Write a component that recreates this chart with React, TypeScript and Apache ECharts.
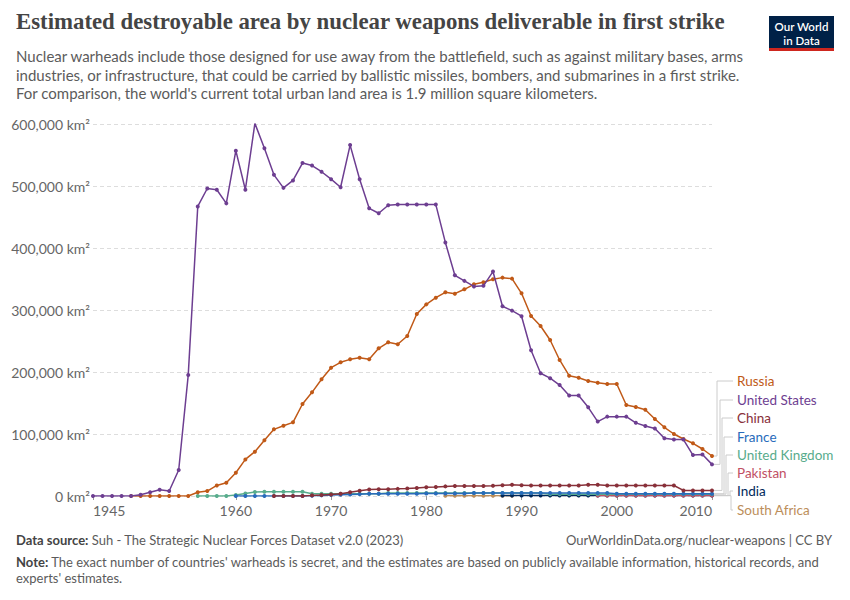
import React, { useEffect, useRef } from "react";
import * as echarts from "echarts";

const xTicks = [1945, 1960, 1970, 1980, 1990, 2000, 2010];
const yTicks = [0, 100000, 200000, 300000, 400000, 500000, 600000];

const usStart = 1945;
const usValues = [
  0, 0, 0, 0, 0, 2000, 6000, 10000, 8000, 42000, 195000, 467000, 496000, 494000, 472000,
  557000, 494000, 601000, 561000, 518000, 497000, 509000, 537000, 533000, 523000,
  511000, 498000, 566000, 511000, 464000, 456000, 469000, 470000, 470000, 470000,
  470000, 470000, 409000, 356000, 347000, 338000, 339000, 362000, 306000, 299000,
  290000, 235000, 198000, 190000, 179000, 162000, 162000, 143000, 120000, 128000,
  128000, 128000, 118000, 113000, 109000, 93000, 91000, 91000, 66000, 67000, 51000,
];

const russiaStart = 1949;
const russiaValues = [
  0, 0, 0, 0, 0, 0, 0, 6000, 8000, 17000, 21500,
  37600, 59000, 71500, 90000, 107500, 113400, 118800, 148400, 167200, 188200,
  207000, 215600, 220400, 223100, 220400, 238200, 247900, 244700, 258100, 293500,
  309100, 319900, 328500, 326300, 333400, 341400, 344700, 349500, 352200, 350600,
  326900, 290300, 274200, 251600, 219400, 194000, 190800, 185500, 182800, 180600,
  180600, 146800, 143500, 139200, 124200, 110800, 100000, 91900, 85000, 75800, 64500,
];

const chinaStart = 1964;
const chinaValues = [
  0, 0, 0, 0, 1000, 1500, 2500, 3500, 6000, 8500, 10500, 11000, 11000, 11500, 12000, 13000,
  14000, 14500, 15500, 16000, 16000, 16000, 16000, 16500, 17500, 18000,
  17500, 17000, 17000, 17000, 17000, 17000, 17000, 18000, 18000, 17000,
  17000, 17000, 17000, 17000, 17000, 17000, 17000, 9000, 9000, 9000, 9000,
];

const franceStart = 1960;
const franceValues = [
  0, 0, 0, 0, 0, 0, 0, 0, 500, 1000, 1500, 2000, 2500, 3000, 3500, 3500, 3500, 3500, 3500, 3500,
  4000, 4000, 4000, 4000, 4000, 5000, 5000, 5000, 5000, 5000, 5000, 5000, 5000, 5000, 5000,
  5000, 5000, 5000, 5000, 5000, 3500, 3500, 3500, 3500, 3500, 3500, 3500, 3500, 3500, 3500, 3500,
];

const ukStart = 1956;
const ukValues = [
  0, 0, 0, 0, 1500, 4000, 6500, 7000, 7000, 7000, 7000, 7000, 3500, 3500,
  3500, 3500, 3500, 3500, 3500, 3500, 5000, 5000, 5000, 5000, 5000, 5000, 5000, 5000,
  5000, 5000, 5000, 5000, 5000, 5000, 5000, 5000, 5000, 3000, 3000, 3000, 3000, 3000,
  3000, 3000, 3000, 3000, 3000, 3000, 3000, 3000, 3000, 3000, 3000, 3000, 3000,
];

const southAfricaStart = 1982;
const southAfricaValues = [500, 500, 500, 500, 500, 500, 500, 500];

const indiaStart = 1988;
const indiaValues = [
  800, 800, 800, 800, 800, 800, 800, 800, 800, 800, 800, 800, 800, 800, 800, 800,
  800, 800, 800, 800, 800, 800, 800,
];

const pakistanStart = 1998;
const pakistanValues = [700, 700, 700, 700, 700, 700, 700, 700, 700, 700, 700, 700, 700];

const countries = [
  "Russia", "United States", "China", "France", "United Kingdom", "Pakistan", "India", "South Africa",
];
const colors = ["#C05917", "#6D3E91", "#883039", "#286BBB", "#58AC8C", "#C15065", "#00295B", "#BC8E5A"];
const starts = [russiaStart, usStart, chinaStart, franceStart, ukStart, pakistanStart, indiaStart, southAfricaStart];
const valuesList = [russiaValues, usValues, chinaValues, franceValues, ukValues, pakistanValues, indiaValues, southAfricaValues];

const labelYs = [381, 400, 418, 437, 455, 473, 491, 510];
const connectorXs = [717, 720, 722, 724, 726, 728, 730, 731];

const FONT = "Lato, 'Noto Sans', sans-serif";

export default function App() {
  const ref = useRef<HTMLDivElement>(null);
  useEffect(() => {
    if (!ref.current) return;
    const chart = echarts.init(ref.current, null, { renderer: "svg", width: 850, height: 600 });

    const drawOrder = [7, 6, 5, 4, 3, 2, 0, 1];
    const series = drawOrder.map((i) => ({
      name: countries[i],
      type: "line",
      data: valuesList[i].map((v, k) => [starts[i] + k, v]),
      symbol: "circle",
      symbolSize: 4,
      showSymbol: true,
      lineStyle: { width: 1.5, color: colors[i] },
      itemStyle: { color: colors[i] },
      z: 2 + drawOrder.indexOf(i),
      silent: true,
    }));

    const baseGraphics: any[] = [
      {
        type: "text",
        left: 16,
        top: 10,
        style: {
          text: "Estimated destroyable area by nuclear weapons deliverable in first strike",
          font: "bold 22.8px 'Liberation Serif', 'DejaVu Serif', serif",
          fill: "#444444",
        },
      },
      {
        type: "text",
        left: 16,
        top: 47,
        style: {
          text:
            "Nuclear warheads include those designed for use away from the battlefield, such as against military bases, arms\nindustries, or infrastructure, that could be carried by ballistic missiles, bombers, and submarines in a first strike.\nFor comparison, the world's current total urban land area is 1.9 million square kilometers.",
          font: `15px ${FONT}`,
          lineHeight: 18.5,
          fill: "#5b5b5b",
        },
      },
      { type: "rect", shape: { x: 769, y: 16, width: 65, height: 33 }, style: { fill: "#002147" } },
      { type: "rect", shape: { x: 769, y: 48, width: 65, height: 3 }, style: { fill: "#CE261E" } },
      {
        type: "text",
        x: 801.5,
        y: 26,
        style: {
          text: "Our World",
          font: `600 11.5px ${FONT}`,
          lineHeight: 11.5,
          fill: "#ffffff",
          align: "center",
          verticalAlign: "middle",
        },
      },
      {
        type: "text",
        x: 801.5,
        y: 40,
        style: {
          text: "in Data",
          font: `600 11.5px ${FONT}`,
          lineHeight: 11.5,
          fill: "#ffffff",
          align: "center",
          verticalAlign: "middle",
        },
      },
      {
        type: "text",
        left: 16,
        top: 533,
        style: {
          text: "{b|Data source:} Suh - The Strategic Nuclear Forces Dataset v2.0 (2023)",
          font: `13px ${FONT}`,
          fill: "#5b5b5b",
          rich: { b: { font: `bold 13px ${FONT}`, fill: "#444444" } },
        },
      },
      {
        type: "text",
        right: 18,
        top: 533,
        style: {
          text: "OurWorldinData.org/nuclear-weapons | CC BY",
          font: `13px ${FONT}`,
          fill: "#5b5b5b",
        },
      },
      {
        type: "text",
        left: 16,
        top: 554,
        style: {
          text:
            "{b|Note:} The exact number of countries' warheads is secret, and the estimates are based on publicly available information, historical records, and\nexperts' estimates.",
          font: `13px ${FONT}`,
          lineHeight: 16,
          fill: "#5b5b5b",
          rich: { b: { font: `bold 13px ${FONT}`, fill: "#444444" } },
        },
      },
    ];

    countries.forEach((c, i) => {
      baseGraphics.push({
        type: "text",
        x: 737,
        y: labelYs[i],
        style: {
          text: c,
          font: `13.5px ${FONT}`,
          fill: colors[i],
          verticalAlign: "middle",
        },
      });
    });

    const option: any = {
      animation: false,
      backgroundColor: "#ffffff",
      grid: { left: 93, right: 138, top: 124, bottom: 104, containLabel: false },
      xAxis: {
        type: "value",
        min: 1945,
        max: 2010,
        interval: 5,
        splitLine: { show: false },
        axisLine: { show: false },
        axisTick: { show: true, customValues: xTicks, length: 4, lineStyle: { color: "#999" } },
        axisLabel: {
          customValues: xTicks,
          formatter: (v: number) => String(v),
          color: "#666666",
          fontFamily: FONT,
          fontSize: 14,
          margin: 7,
          alignMinLabel: "left",
          alignMaxLabel: "right",
        },
      },
      yAxis: {
        type: "value",
        min: 0,
        max: 600000,
        interval: 100000,
        axisLine: { show: false },
        axisTick: { show: false },
        splitLine: { show: true, lineStyle: { color: "#dddddd", type: [4, 3], width: 1 } },
        axisLabel: {
          formatter: (v: number) => v.toLocaleString("en-US") + " km²",
          color: "#666666",
          fontFamily: FONT,
          fontSize: 14,
          margin: 3,
        },
      },
      series,
      graphic: { elements: baseGraphics },
    };
    chart.setOption(option);

    const connectors: any[] = [];
    countries.forEach((c, i) => {
      const vals = valuesList[i];
      const lastYear = starts[i] + vals.length - 1;
      const p = chart.convertToPixel({ xAxisIndex: 0, yAxisIndex: 0 }, [lastYear, vals[vals.length - 1]]) as number[];
      connectors.push({
        type: "polyline",
        shape: {
          points: [
            [p[0] + 2, p[1]],
            [connectorXs[i], p[1]],
            [connectorXs[i], labelYs[i]],
            [733, labelYs[i]],
          ],
        },
        style: { stroke: "#cccccc", lineWidth: 1, fill: "none" },
        silent: true,
      });
    });
    chart.setOption({ graphic: { elements: [...baseGraphics, ...connectors] } });

    return () => chart.dispose();
  }, []);
  return <div ref={ref} style={{ width: 850, height: 600, position: "absolute", left: 0, top: 0 }} />;
}
